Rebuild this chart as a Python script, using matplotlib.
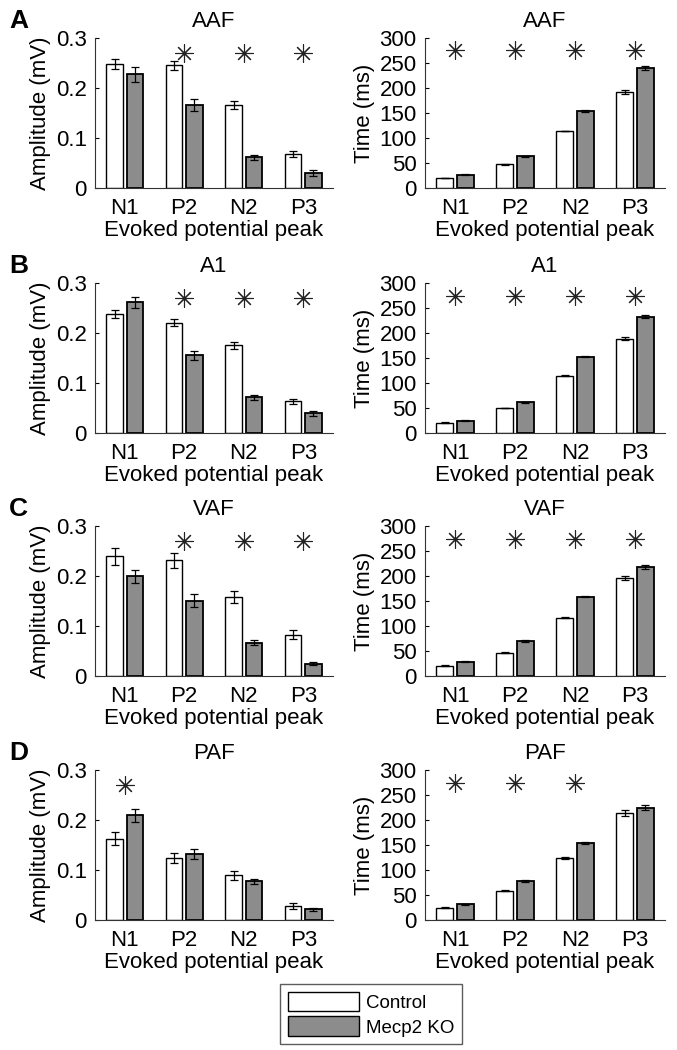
import matplotlib
matplotlib.use('Agg')
import matplotlib.pyplot as plt
from matplotlib.patches import Patch
import numpy as np

plt.rcParams['font.family'] = ['Liberation Sans', 'DejaVu Sans']

peaks = ['N1', 'P2', 'N2', 'P3']
regions = ['AAF', 'A1', 'VAF', 'PAF']
letters = ['A', 'B', 'C', 'D']

# amplitude (mV): control / Mecp2 KO, mean and error
amp_ctrl = [[0.248, 0.245, 0.165, 0.068],
            [0.238, 0.221, 0.176, 0.064],
            [0.240, 0.232, 0.159, 0.083],
            [0.163, 0.125, 0.090, 0.029]]
amp_ctrl_err = [[0.010, 0.009, 0.008, 0.006],
                [0.008, 0.007, 0.007, 0.005],
                [0.017, 0.015, 0.012, 0.009],
                [0.013, 0.010, 0.009, 0.006]]
amp_ko = [[0.227, 0.165, 0.061, 0.031],
          [0.262, 0.156, 0.072, 0.040],
          [0.200, 0.151, 0.067, 0.025],
          [0.210, 0.133, 0.078, 0.022]]
amp_ko_err = [[0.015, 0.012, 0.005, 0.006],
              [0.011, 0.009, 0.005, 0.005],
              [0.013, 0.013, 0.005, 0.003],
              [0.013, 0.010, 0.005, 0.003]]
amp_sig = [[False, True, True, True],
           [False, True, True, True],
           [False, True, True, True],
           [True, False, False, False]]

# latency (ms)
time_ctrl = [[20, 47, 114, 192],
             [21, 50, 115, 189],
             [21, 47, 117, 197],
             [25, 59, 124, 214]]
time_ctrl_err = [[0.5, 0.5, 0.5, 4],
                 [0.5, 0.5, 0.5, 2.5],
                 [0.5, 0.5, 1.5, 4],
                 [0.5, 1, 1.5, 6]]
time_ko = [[27, 63, 154, 240],
           [25, 62, 153, 233],
           [29, 70, 159, 219],
           [32, 78, 155, 225]]
time_ko_err = [[1, 1.5, 2, 4],
               [1, 1, 1.5, 3],
               [1, 1.5, 1, 4],
               [1, 1.5, 2, 5]]
time_sig = [[True, True, True, True],
            [True, True, True, True],
            [True, True, True, True],
            [True, True, True, False]]

white = 'white'
gray = '#8c8c8c'
W, H = 677, 1050
row_tops = [38, 283, 526, 770]
ax_h = 150


def draw(ax, ctrl, cerr, ko, kerr, sig, ymax, star_y, ticks, ticklabels, ylabel, title):
    x = np.arange(1, 5)
    bw = 0.28
    off = 0.17
    ax.bar(x - off, ctrl, bw, color=white, edgecolor='black', linewidth=1.0, zorder=2)
    ax.bar(x + off, ko, bw, color=gray, edgecolor='black', linewidth=1.3, zorder=2)
    ax.errorbar(x - off, ctrl, yerr=cerr, fmt='none', ecolor='black',
                elinewidth=0.9, capsize=3, capthick=0.9, zorder=3)
    ax.errorbar(x + off, ko, yerr=kerr, fmt='none', ecolor='black',
                elinewidth=0.9, capsize=3, capthick=0.9, zorder=3)
    for i in range(4):
        if sig[i]:
            ax.plot(x[i], star_y, marker=(8, 2, 0), markersize=13,
                    markeredgewidth=0.8, color='#222222', linestyle='none')
    ax.set_xlim(0.5, 4.5)
    ax.set_ylim(0, ymax)
    ax.set_xticks(x)
    ax.set_xticklabels(peaks)
    ax.set_yticks(ticks)
    ax.set_yticklabels(ticklabels)
    ax.tick_params(direction='in', length=3, labelsize=16, pad=6)
    ax.tick_params(axis='x', length=0, pad=7)
    for s in ['top', 'right']:
        ax.spines[s].set_visible(False)
    for s in ['left', 'bottom']:
        ax.spines[s].set_color('#333333')
        ax.spines[s].set_linewidth(0.8)
    ax.set_xlabel('Evoked potential peak', fontsize=16, labelpad=1)
    ax.set_ylabel(ylabel, fontsize=16, labelpad=3)
    ax.set_title(title, fontsize=16, pad=8)


fig = plt.figure(figsize=(W / 100, H / 100), dpi=100)

for r in range(4):
    bottom = 1 - (row_tops[r] + ax_h) / H
    axl = fig.add_axes([95 / W, bottom, 238 / W, ax_h / H])
    draw(axl, amp_ctrl[r], amp_ctrl_err[r], amp_ko[r], amp_ko_err[r], amp_sig[r],
         0.3, 0.27, [0, 0.1, 0.2, 0.3], ['0', '0.1', '0.2', '0.3'],
         'Amplitude (mV)', regions[r])
    axr = fig.add_axes([425 / W, bottom, 240 / W, ax_h / H])
    draw(axr, time_ctrl[r], time_ctrl_err[r], time_ko[r], time_ko_err[r], time_sig[r],
         300, 275, list(range(0, 301, 50)), [str(v) for v in range(0, 301, 50)],
         'Time (ms)', regions[r])
    fig.text(9 / W, 1 - (row_tops[r] - 29) / H, letters[r], fontsize=19,
             fontweight='bold', ha='left', va='top')

handles = [Patch(facecolor=white, edgecolor='black', linewidth=1.0, label='Control'),
           Patch(facecolor=gray, edgecolor='black', linewidth=1.0, label='Mecp2 KO')]
fig.legend(handles=handles, loc='upper left', bbox_to_anchor=(280 / W, 1 - 984 / H),
           fontsize=13.5, frameon=True, fancybox=False, edgecolor='#333333',
           handlelength=3.8, handleheight=1.25, handletextpad=0.4,
           borderpad=0.4, labelspacing=0.25, borderaxespad=0)

fig.savefig('out.png', dpi=100)
